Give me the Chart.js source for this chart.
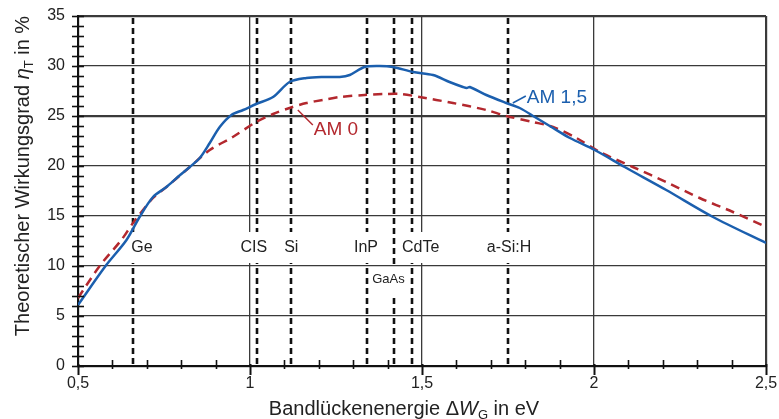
<!DOCTYPE html>
<html><head><meta charset="utf-8">
<script src="https://cdn.jsdelivr.net/npm/chart.js@4/dist/chart.umd.min.js"></script>
<style>html,body{margin:0;padding:0;background:#fff;}canvas{display:block;}</style>
</head><body>
<canvas id="c" width="779" height="419"></canvas>
<script>
// ---- data ----
const am15X = [0.5,0.58,0.641,0.679,0.718,0.757,0.79,0.825,0.854,0.883,0.912,0.946,0.98,1.018,1.067,1.115,1.164,1.212,1.261,1.29,1.333,1.377,1.416,1.474,1.532,1.58,1.619,1.630,1.639,1.687,1.745,1.784,1.828,1.881,1.93,2.002,2.089,2.21,2.346,2.5];
const am15Y = [6.1,10.0,12.6,14.9,16.9,17.9,18.9,19.9,20.8,22.3,23.9,25.1,25.6,26.2,26.9,28.4,28.8,28.9,28.9,29.1,29.9,30.0,29.9,29.4,29.1,28.4,27.9,27.8,27.9,27.1,26.3,25.8,24.9,23.8,22.8,21.6,19.9,17.6,14.9,12.3];
const am0X = [0.5,0.563,0.626,0.66,0.718,0.757,0.825,0.883,0.95,1.018,1.067,1.115,1.164,1.212,1.261,1.333,1.39,1.44,1.493,1.59,1.687,1.745,1.823,1.881,1.949,2.017,2.113,2.21,2.307,2.404,2.5];
const am0Y = [6.8,10.0,12.6,14.3,16.8,17.9,19.9,21.6,22.9,24.4,25.2,25.8,26.3,26.6,26.9,27.1,27.2,27.2,26.9,26.3,25.6,25.0,24.4,23.9,22.8,21.4,19.9,18.4,16.8,15.4,13.9];
const materials = ['Ge','CIS','Si','InP','GaAs','CdTe','a-Si:H'];
const bandGaps  = [0.66,1.02,1.12,1.34,1.42,1.47,1.75];
const seriesNames = ['AM 1,5','AM 0'];
const xTickValues = [0.5,1,1.5,2,2.5];
const xTickLabels = ['0,5','1','1,5','2','2,5'];
const yTickValues = [0,5,10,15,20,25,30,35];
const yTickLabels = ['0','5','10','15','20','25','30','35'];

// ---- styles ----
const BLUE = '#1b5fae', RED = '#b3282e', GRID = '#3a3a3a', TXT = '#222';
const FONT = '"Liberation Sans", Arial, sans-serif';
// label styling: [dx from line, label row y-value, font size]
const labelStyle = {
  'Ge':[9,11.9,16], 'CIS':[-3,11.9,16], 'Si':[0,11.9,16], 'InP':[-1,11.9,16],
  'GaAs':[-6,8.8,13], 'CdTe':[9,11.9,16], 'a-Si:H':[1,11.9,16]
};

const pts = (xs, ys) => xs.map((v,i)=>({x:v,y:ys[i]}));

const plugin = {
  id:'deco',
  beforeDatasetsDraw(chart){
    const {ctx, chartArea:a, scales:{x,y}} = chart;
    ctx.save();
    ctx.strokeStyle = '#111'; ctx.lineWidth = 2.6; ctx.setLineDash([6,4]);
    bandGaps.forEach(g=>{
      const px = Math.round(x.getPixelForValue(g));
      ctx.beginPath(); ctx.moveTo(px,a.top+2); ctx.lineTo(px,a.bottom); ctx.stroke();
    });
    ctx.setLineDash([]);
    ctx.textAlign='center'; ctx.textBaseline='middle';
    materials.forEach((m,i)=>{
      const st = labelStyle[m];
      const cx = x.getPixelForValue(bandGaps[i]) + st[0];
      const cy = y.getPixelForValue(st[1]);
      ctx.font = st[2]+'px '+FONT;
      const w = ctx.measureText(m).width;
      ctx.fillStyle='#fff';
      if (m==='GaAs') ctx.fillRect(cx-w/2-1, cy-10, w+2, 30);
      else ctx.fillRect(cx-w/2-2, cy-15, w+4, 31);
      ctx.fillStyle=TXT;
      ctx.fillText(m, cx, cy+1);
    });
    ctx.restore();
  },
  afterDraw(chart){
    const {ctx, chartArea:a, scales:{x,y}} = chart;
    ctx.save();
    ctx.strokeStyle='#111';
    ctx.lineWidth=1.6;
    for(let v=0; v<=35; v++){
      const py = Math.round(y.getPixelForValue(v))+0.5;
      ctx.beginPath(); ctx.moveTo(a.left-6,py); ctx.lineTo(a.left+6,py); ctx.stroke();
    }
    for(let k=5; k<=25; k++){
      const v = k/10;
      const px = Math.round(x.getPixelForValue(v))+0.5;
      ctx.beginPath();
      if (k%5===0){ ctx.lineWidth=2; ctx.moveTo(px,a.bottom-2); ctx.lineTo(px,a.bottom+9); }
      else { ctx.lineWidth=1.6; ctx.moveTo(px,a.bottom-6); ctx.lineTo(px,a.bottom+3); }
      ctx.stroke();
    }
    const lab = (name, color, ax, ay, l1, t) => {
      const px = x.getPixelForValue(ax), py = y.getPixelForValue(ay);
      ctx.strokeStyle=color; ctx.lineWidth=1.5;
      ctx.beginPath(); ctx.moveTo(px,py); ctx.lineTo(px+l1[0],py+l1[1]); ctx.stroke();
      ctx.fillStyle=color; ctx.font='19px '+FONT; ctx.textAlign='left'; ctx.textBaseline='middle';
      ctx.fillText(name, px+t[0], py+t[1]);
    };
    lab(seriesNames[1], RED, 1.139, 25.6, [15,15], [16,20]);
    lab(seriesNames[0], BLUE, 1.764, 26.3, [13,-7], [14,-5]);
    const drawRich = (parts, cx, cy) => {
      let total=0;
      parts.forEach(p=>{ctx.font=p.f; p.w=ctx.measureText(p.t).width; total+=p.w;});
      let xx = cx-total/2;
      parts.forEach(p=>{ctx.font=p.f; ctx.fillText(p.t, xx, cy+(p.dy||0)); xx+=p.w;});
    };
    ctx.fillStyle=TXT; ctx.textAlign='left'; ctx.textBaseline='alphabetic';
    drawRich([
      {t:'Bandlückenenergie \u0394', f:'20px '+FONT},
      {t:'W', f:'italic 20px '+FONT},
      {t:'G', f:'13px '+FONT, dy:4},
      {t:' in eV', f:'20px '+FONT}
    ], 404, 415);
    ctx.save();
    ctx.translate(29,176); ctx.rotate(-Math.PI/2);
    drawRich([
      {t:'Theoretischer Wirkungsgrad ', f:'20px '+FONT},
      {t:'\u03B7', f:'italic 20px '+FONT},
      {t:'T', f:'13px '+FONT, dy:4},
      {t:' in %', f:'20px '+FONT}
    ], 0, 0);
    ctx.restore();
    ctx.restore();
  }
};

const gridWidthY = c => { const v=c.tick.value; return (v===0||v===25||v===35)?2.2:1.3; };
const gridWidthX = c => { const v=c.tick.value; return (v===0.5||v===2.5)?2.2:1.3; };

new Chart(document.getElementById('c'), {
  type:'line',
  data:{datasets:[
    {label:seriesNames[0], data:pts(am15X,am15Y), borderColor:BLUE, borderWidth:2.5, pointRadius:0, tension:0.3, fill:false},
    {label:seriesNames[1], data:pts(am0X,am0Y), borderColor:RED, borderWidth:2.5, borderDash:[9,6], pointRadius:0, tension:0.3, fill:false}
  ]},
  options:{
    responsive:false, animation:false, devicePixelRatio:1,
    layout:{padding:{left:0,right:13,top:16,bottom:0}},
    plugins:{legend:{display:false}, tooltip:{enabled:false}},
    scales:{
      x:{type:'linear', min:0.5, max:2.5,
        afterBuildTicks(s){ s.ticks = xTickValues.map(v=>({value:v})); },
        ticks:{callback:(v)=>xTickLabels[xTickValues.indexOf(v)], color:TXT, font:{size:16,family:FONT}, padding:8, maxRotation:0, autoSkip:false},
        grid:{color:GRID, lineWidth:gridWidthX, drawTicks:false},
        border:{display:true, color:'#111', width:2},
        afterFit(s){ s.height=53; s.paddingLeft=0; s.paddingRight=0; }
      },
      y:{min:0, max:35,
        afterBuildTicks(s){ s.ticks = yTickValues.map(v=>({value:v})); },
        ticks:{callback:(v)=>yTickLabels[yTickValues.indexOf(v)], color:TXT, font:{size:16,family:FONT}, padding:13, autoSkip:false},
        grid:{color:GRID, lineWidth:gridWidthY, drawTicks:false},
        border:{display:true, color:'#111', width:2},
        afterFit(s){ s.width=78; s.paddingTop=0; s.paddingBottom=0; }
      }
    }
  },
  plugins:[plugin]
});
</script>
</body></html>
